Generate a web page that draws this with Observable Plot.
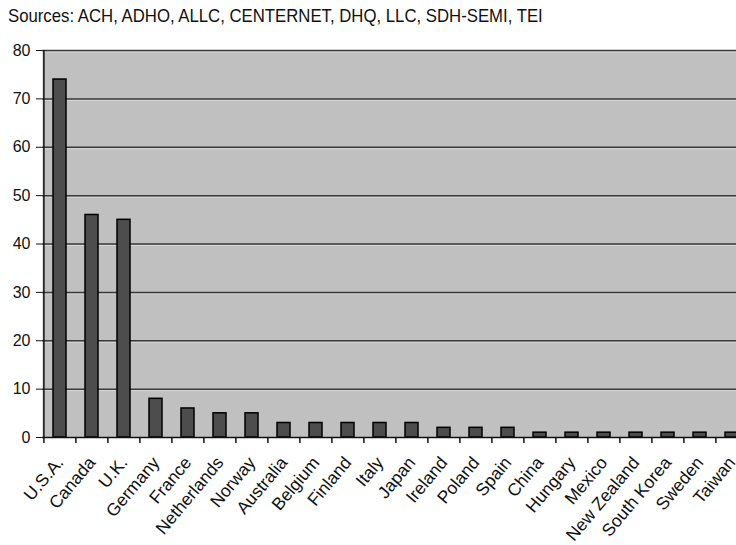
<!DOCTYPE html>
<html><head><meta charset="utf-8">
<script src="https://cdn.jsdelivr.net/npm/d3@7"></script>
<script src="https://cdn.jsdelivr.net/npm/@observablehq/plot@0.6"></script>
<style>
html,body{margin:0;padding:0;background:#fff;overflow:hidden;width:736px;height:545px;}
#title{position:absolute;left:8px;top:6px;font-family:"Liberation Sans",Arial,sans-serif;font-size:17px;white-space:nowrap;transform-origin:0 0;transform:scale(0.985,1.08);color:#111;}
#chart{position:absolute;left:0;top:35px;}
</style></head>
<body>
<div id="title">Sources: ACH, ADHO, ALLC, CENTERNET, DHQ, LLC, SDH-SEMI, TEI</div>
<div id="chart"></div>
<script>
const countries = ["U.S.A.","Canada","U.K.","Germany","France","Netherlands","Norway","Australia","Belgium","Finland","Italy","Japan","Ireland","Poland","Spain","China","Hungary","Mexico","New Zealand","South Korea","Sweden","Taiwan"];
const counts = [74,46,45,8,6,5,5,3,3,3,3,3,2,2,2,1,1,1,1,1,1,1];
const yTicks = [0,10,20,30,40,50,60,70,80];

const data = countries.map((c,i)=>({country:c, count:counts[i]}));
const W = 752, ML = 42, MR = 2;
const step = (W - ML - MR) / countries.length;

const chart = Plot.plot({
  width: W, height: 510,
  marginLeft: ML, marginRight: MR, marginTop: 15, marginBottom: 108,
  style: {fontFamily: '"Liberation Sans",Arial,sans-serif', fontSize: "15px", color: "#111", background: "transparent", maxWidth: "none", overflow: "visible"},
  x: {domain: countries, paddingInner: 0.58, paddingOuter: 0.29, label: null},
  y: {domain: [0,80], label: null},
  marks: [
    Plot.frame({fill: "#c0c0c0", stroke: null}),
    Plot.ruleY(yTicks.filter(d=>d>0), {stroke: "#d9d9d9", strokeWidth: 1, dy: 1.5}),
    Plot.ruleY(yTicks.filter(d=>d>0), {stroke: "#3a3a3a", strokeWidth: 1.5}),
    Plot.barY(data, {x: "country", y: "count", fill: "#4d4d4d", stroke: "#000", strokeWidth: 1.5}),
    Plot.ruleY([0], {stroke: "#111", strokeWidth: 1.5}),
    Plot.ruleX([countries[0]], {y1: 0, y2: 80, dx: -step/2, stroke: "#111", strokeWidth: 1.5}),
    Plot.ruleX(countries, {y1: 0, y2: -1.25, dx: -step/2, stroke: "#111", strokeWidth: 1.5, clip: false}),
    Plot.axisY({ticks: yTicks, tickSize: 6, tickPadding: 6, tickFormat: d=>d, stroke: "#111", fontSize: 16}),
    Plot.axisX({tickSize: 0, tickRotate: -50, tickPadding: 22, fontSize: 17.5})
  ]
});
document.getElementById("chart").appendChild(chart);
</script>
</body></html>
